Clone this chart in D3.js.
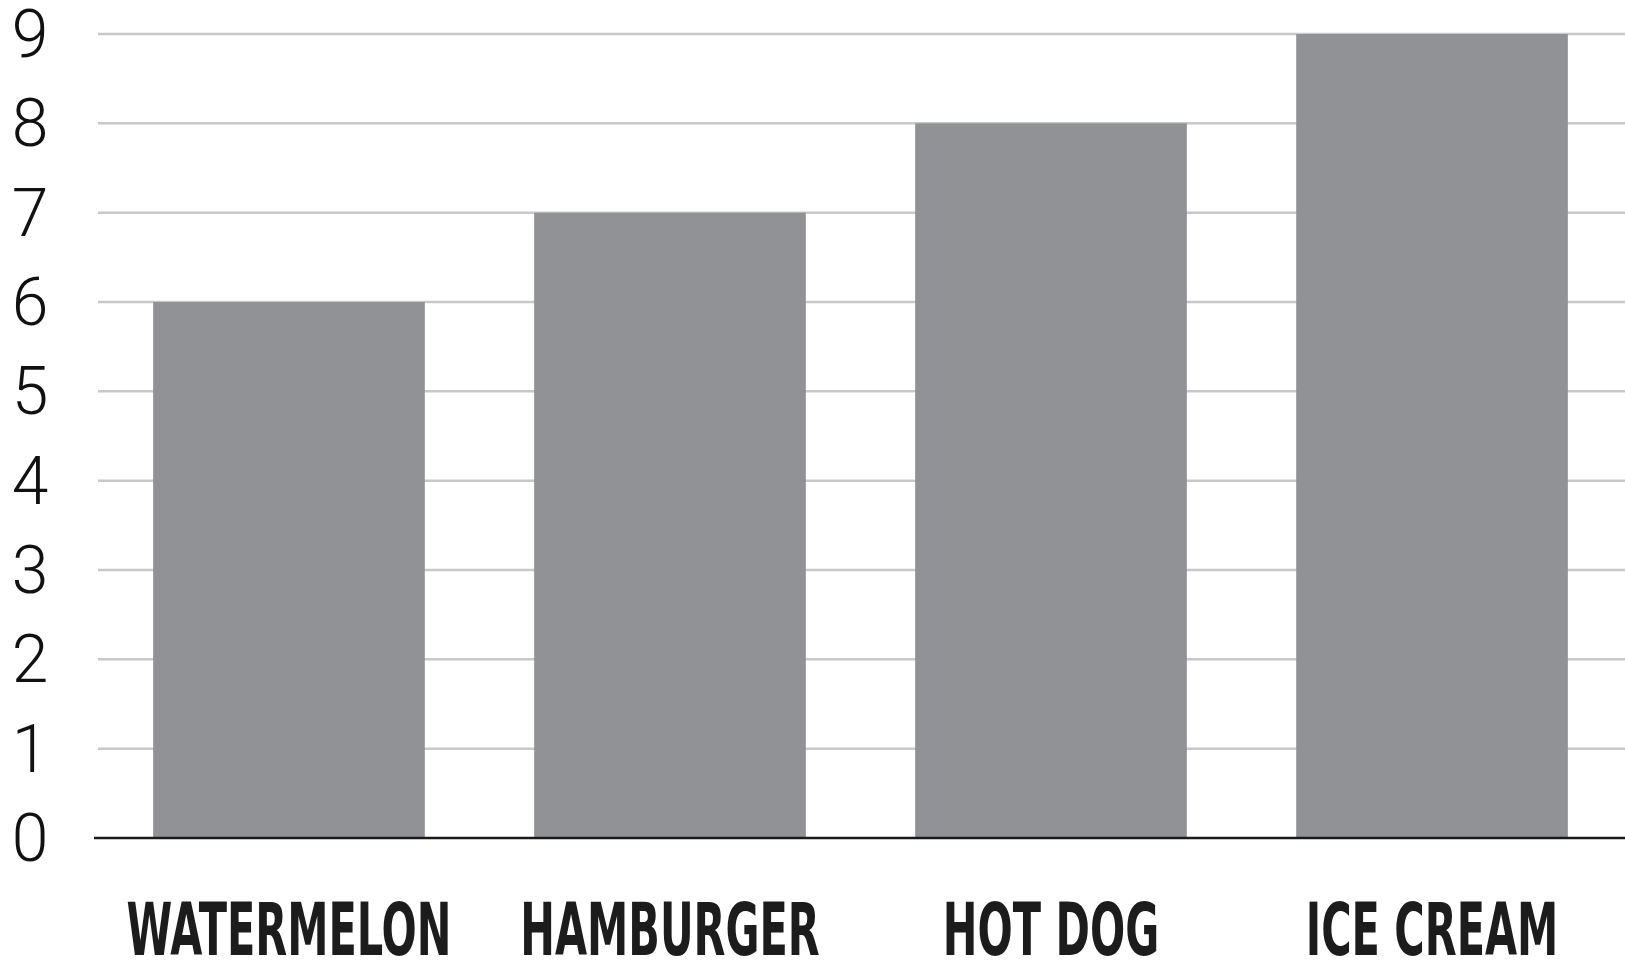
<!DOCTYPE html>
<html>
<head>
<meta charset="utf-8">
<script src="https://cdn.jsdelivr.net/npm/d3@7"></script>
<style>
  body { margin: 0; background: #fff; }
</style>
</head>
<body>
<script>
// Data
var categories = ["WATERMELON", "HAMBURGER", "HOT DOG", "ICE CREAM"];
var values = [6, 7, 8, 9];
var yTicks = [0, 1, 2, 3, 4, 5, 6, 7, 8, 9];

var width = 1625;
var height = 963;

var svg = d3.select("body")
    .append("svg")
    .attr("width", width)
    .attr("height", height);

// SCALES
var x = d3.scaleBand()
    .domain(categories)
    .range([96, 1625])
    .paddingInner(0.287)
    .paddingOuter(0.15);

var y = d3.scaleLinear()
    .domain([0, 9])
    .range([838, 34]);

// Gridlines
svg.append("g")
    .attr("class", "grid")
    .selectAll("line")
    .data(yTicks.filter((d) => d > 0))
    .enter()
    .append("line")
    .attr("x1", 98)
    .attr("x2", width)
    .attr("y1", (d) => y(d))
    .attr("y2", (d) => y(d))
    .attr("stroke", "#c8c8c8")
    .attr("stroke-width", 2.5);

// Bars
svg.selectAll("rect.bar")
    .data(categories)
    .enter()
    .append("rect")
    .attr("class", "bar")
    .attr("x", (d) => x(d))
    .attr("y", (d, i) => y(values[i]))
    .attr("width", x.bandwidth())
    .attr("height", (d, i) => y(0) - y(values[i]))
    .attr("fill", "#909296");

// Baseline
svg.append("line")
    .attr("x1", 94)
    .attr("x2", width)
    .attr("y1", y(0))
    .attr("y2", y(0))
    .attr("stroke", "#1a1a1a")
    .attr("stroke-width", 2.5);

// Y labels
var leftAxis = d3.axisLeft(y).tickValues(yTicks).tickSize(0).tickPadding(0);
var yAxis = svg.append("g")
    .attr("class", "left axis")
    .attr("transform", "translate(30, 0)")
    .call(leftAxis);
yAxis.select(".domain").remove();
yAxis.selectAll("text")
    .attr("x", 0)
    .attr("dy", null)
    .attr("dominant-baseline", "central")
    .attr("text-anchor", "middle")
    .attr("font-family", "'Helvetica Neue', Roboto, 'Liberation Sans', sans-serif")
    .attr("font-weight", 300)
    .attr("font-size", "66px")
    .attr("fill", "#111");

// X labels (condensed, squeezed to fit)
var labels = svg.append("g")
    .attr("class", "x labels")
    .selectAll("text")
    .data(categories)
    .enter()
    .append("text")
    .attr("text-anchor", "middle")
    .attr("font-family", "'Liberation Sans Narrow', 'DejaVu Sans Condensed', 'Liberation Sans', sans-serif")
    .attr("font-weight", "bold")
    .attr("font-size", "73px")
    .attr("fill", "#1c1c1c")
    .text((d) => d);

var longest = labels.filter((d) => d === "WATERMELON").node().getComputedTextLength();
var sx = 325 / longest;
labels.attr("transform", (d) => "translate(" + (x(d) + x.bandwidth() / 2) + ", 955) scale(" + sx + ", 1)");
</script>
</body>
</html>
